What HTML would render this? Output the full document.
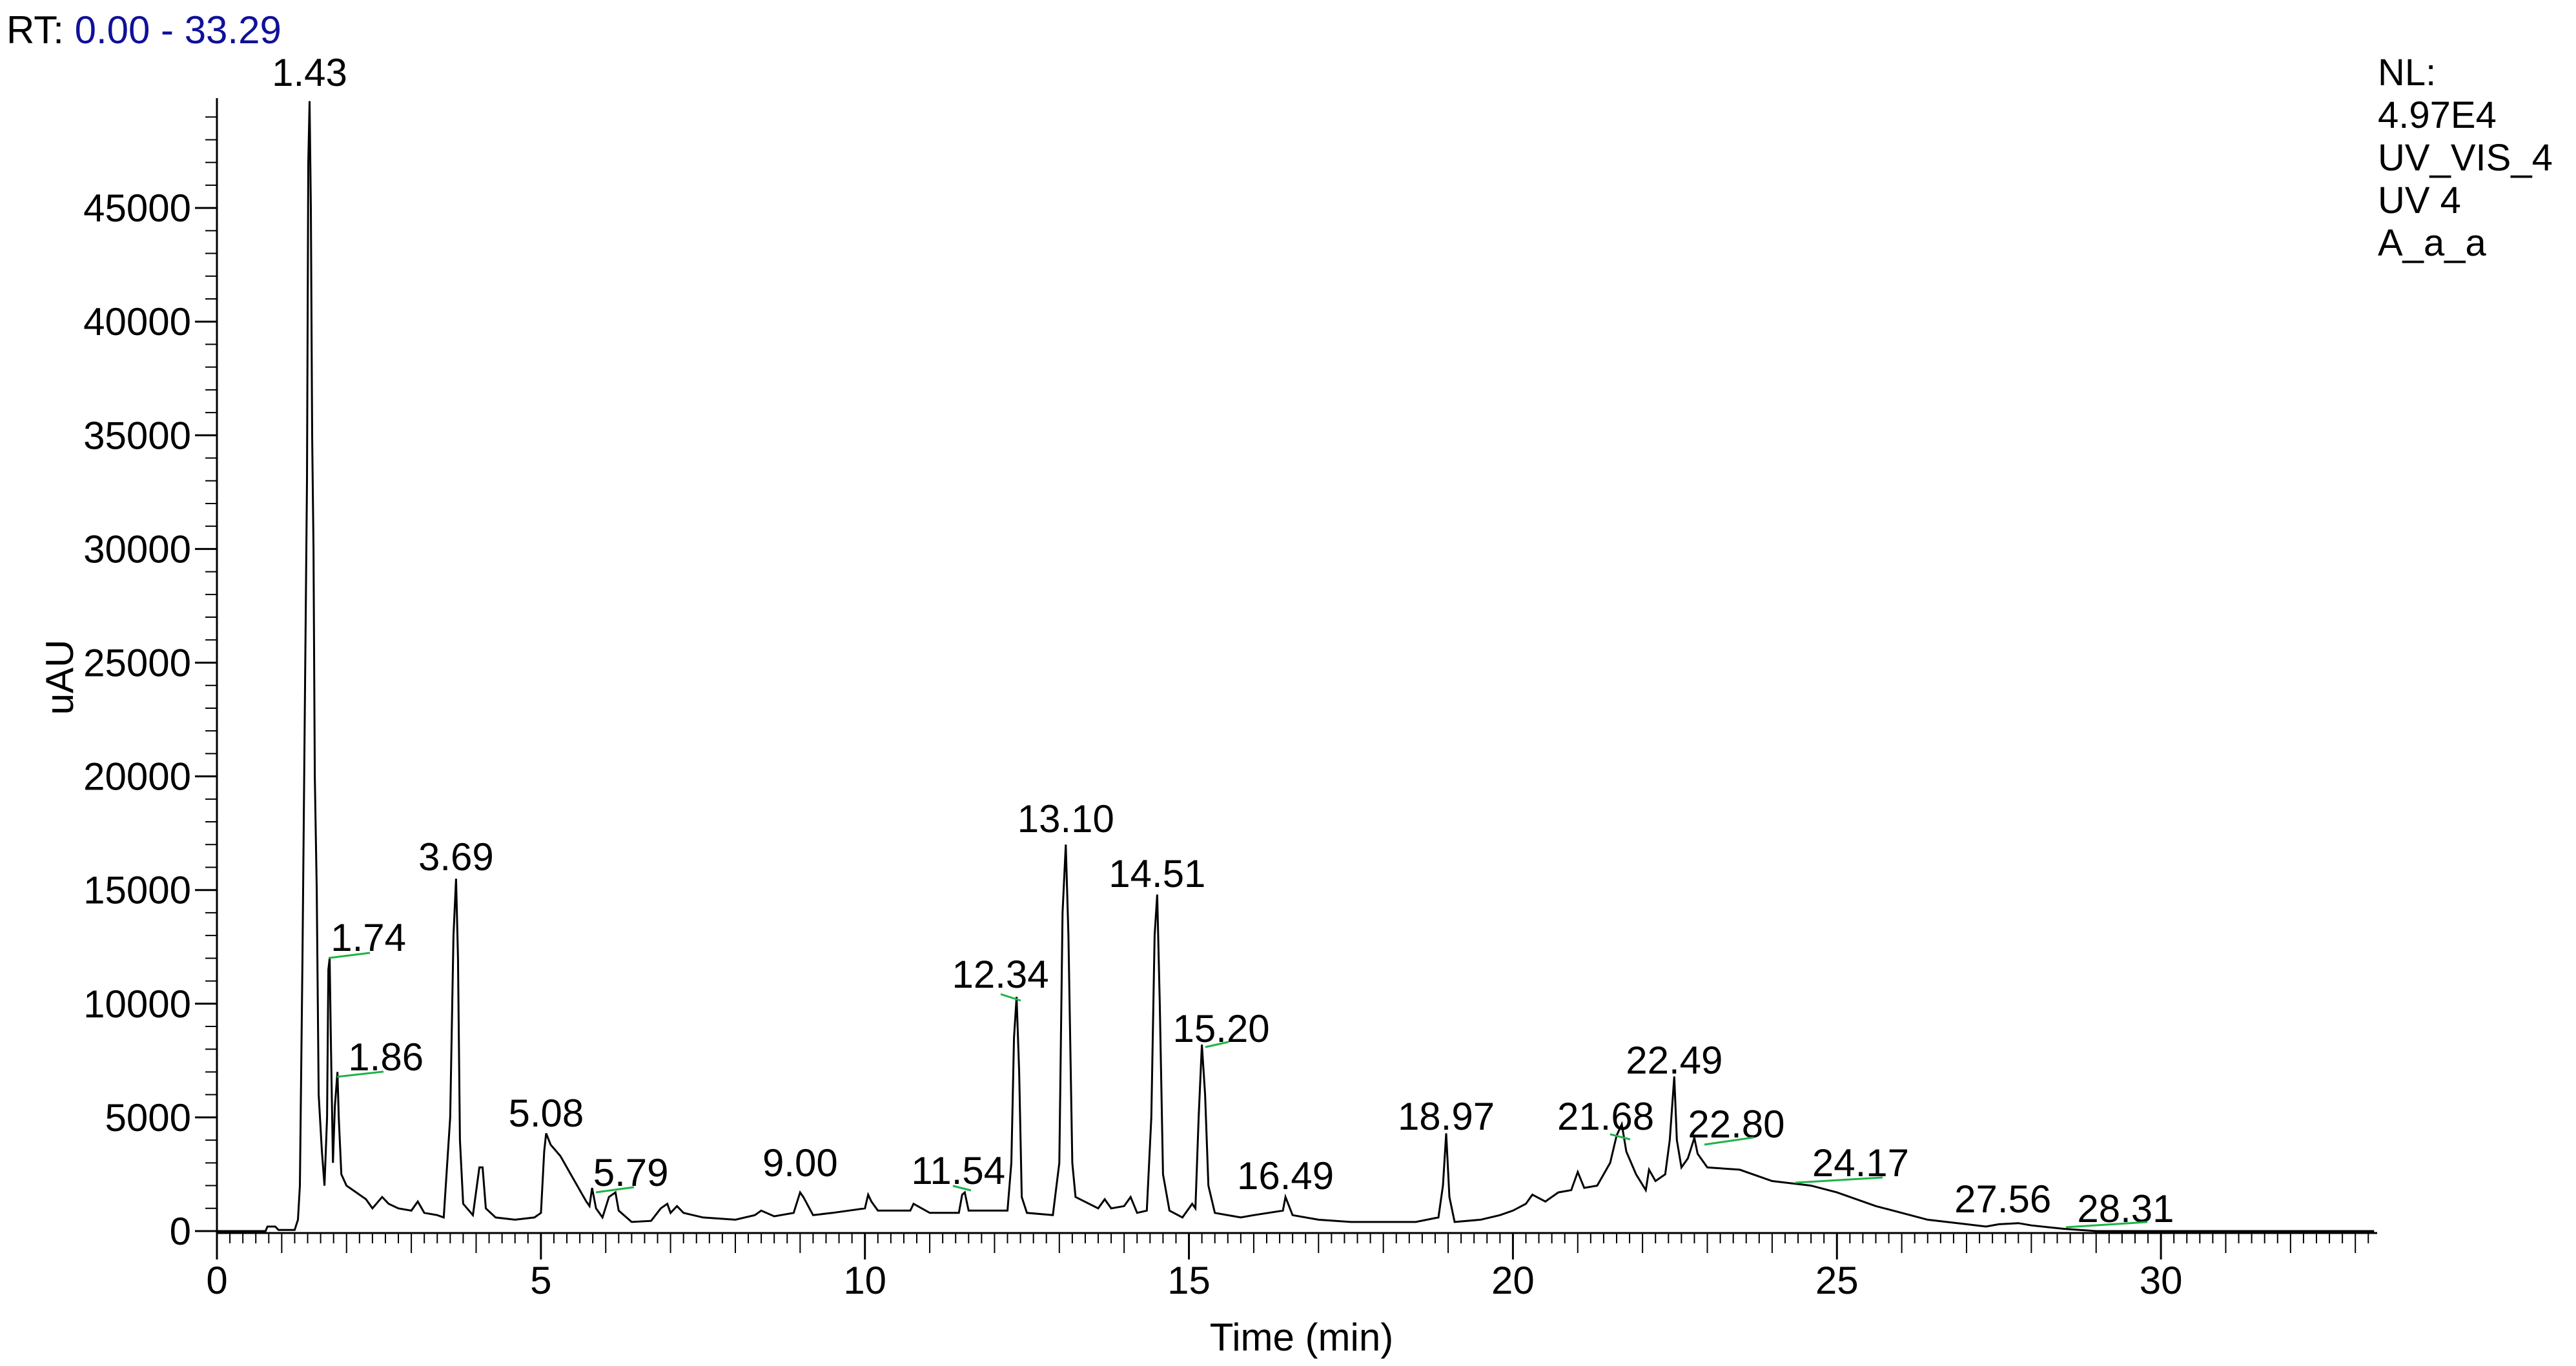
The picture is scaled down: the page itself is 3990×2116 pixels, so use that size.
<!DOCTYPE html>
<html><head><meta charset="utf-8">
<style>
html,body{margin:0;padding:0;background:#fff;}
svg{display:block;font-family:"Liberation Sans",Arial,sans-serif;}
</style></head>
<body>
<svg id="chart" width="3990" height="2116" viewBox="0 0 3990 2116" xmlns="http://www.w3.org/2000/svg">
<rect width="3990" height="2116" fill="#fff"/>
<text x="10" y="67" font-size="60" fill="#000">RT: <tspan fill="#10109a">0.00 - 33.29</tspan></text>
<g font-size="58" fill="#000">
<text x="3683" y="132">NL:</text>
<text x="3683" y="198">4.97E4</text>
<text x="3683" y="264">UV_VIS_4</text>
<text x="3683" y="330">UV 4</text>
<text x="3683" y="396">A_a_a</text>
</g>
<text x="0" y="0" font-size="60" text-anchor="middle" transform="translate(113,1049) rotate(-90)">uAU</text>
<text x="2016" y="2092" font-size="60" text-anchor="middle">Time (min)</text>
<g id="axes"></g>
<g id="trace"></g>
<g id="labels"></g>
</svg>
<script>
// ---- data ----
const times = [0,0.75,0.78,0.9,0.95,1.2,1.25,1.28,1.32,1.36,1.39,1.41,1.43,1.45,1.47,1.49,1.51,1.54,1.57,1.62,1.66,1.70,1.72,1.74,1.76,1.79,1.82,1.86,1.88,1.92,2.0,2.1,2.2,2.3,2.4,2.55,2.65,2.8,3.0,3.1,3.2,3.4,3.5,3.6,3.65,3.69,3.72,3.75,3.8,3.95,4.05,4.1,4.15,4.3,4.6,4.9,5.0,5.05,5.08,5.15,5.3,5.5,5.7,5.75,5.79,5.85,5.95,6.05,6.15,6.2,6.4,6.7,6.85,6.95,7.0,7.1,7.2,7.5,8.0,8.3,8.4,8.6,8.9,9.0,9.05,9.2,9.5,10.0,10.05,10.1,10.2,10.7,10.75,11.0,11.45,11.5,11.54,11.6,12.2,12.26,12.3,12.34,12.38,12.42,12.5,12.9,13.0,13.05,13.10,13.14,13.2,13.25,13.6,13.7,13.8,14.0,14.1,14.2,14.35,14.42,14.47,14.51,14.55,14.6,14.7,14.9,15.05,15.1,15.15,15.2,15.25,15.3,15.4,15.8,16.0,16.45,16.49,16.6,17.0,17.5,18.5,18.85,18.92,18.97,19.02,19.1,19.5,19.8,20.0,20.2,20.3,20.5,20.7,20.9,21.0,21.1,21.3,21.5,21.6,21.68,21.75,21.9,22.05,22.1,22.2,22.35,22.42,22.49,22.53,22.6,22.7,22.8,22.85,23.0,23.5,24.0,24.6,25.0,25.3,25.6,26.0,26.4,27.0,27.3,27.5,27.8,28.0,28.5,29.0,29.5,33.29];
const intensities = [0,0,200,200,50,50,500,2000,12000,24000,33000,47000,49700,45000,35000,30000,20000,15000,6000,3500,2000,5000,11500,12000,8000,3000,5500,7000,5000,2500,2000,1800,1600,1400,1000,1500,1200,1000,900,1300,800,700,600,5000,13000,15500,12000,4000,1200,700,2800,2800,1000,600,500,600,800,3500,4300,3800,3300,2300,1300,1100,1900,1000,600,1500,1700,900,400,450,1000,1200,800,1100,800,600,500,700,900,650,800,1700,1500,700,800,1000,1600,1300,900,900,1200,800,800,1600,1700,900,900,3000,8500,10300,7000,1500,800,700,3000,14000,17000,13000,3000,1500,1000,1400,1000,1100,1500,800,900,5000,13000,14800,10000,2500,900,600,1200,1000,5000,8200,6000,2000,800,600,700,900,1500,700,500,400,400,600,2000,4300,1500,400,500,700,900,1200,1600,1300,1700,1800,2600,1900,2000,3000,4200,4700,3500,2500,1800,2700,2200,2500,4000,6800,4000,2800,3200,4100,3400,2800,2700,2200,2000,1700,1400,1100,800,500,300,200,300,350,250,100,0,0,0];
const yTickValues = [0,5000,10000,15000,20000,25000,30000,35000,40000,45000];
const xTickValues = [0,5,10,15,20,25,30];
const peakLabels = ["1.43","1.74","1.86","3.69","5.08","5.79","9.00","11.54","12.34","13.10","14.51","15.20","16.49","18.97","21.68","22.49","22.80","24.17","27.56","28.31"];
const peakTimes = [1.43,1.74,1.86,3.69,5.08,5.79,9.00,11.54,12.34,13.10,14.51,15.20,16.49,18.97,21.68,22.49,22.80,24.17,27.56,28.31];
const peakValues = [49700,12000,7000,15500,4300,1900,1700,1700,10300,17000,14800,8200,1500,4300,4700,6800,4100,2200,350,250];
// style offsets (px) for label placement: dx from peak, baseline y, green leader flag
const labelDx = [0,60,75,0,0,60,0,-10,-25,0,0,30,0,0,-25,0,65,120,0,115];
const labelBaseline = [133,1473,1658,1348,1745,1837,1822,1834,1530,1289,1374,1614,1842,1750,1750,1663,1762,1822,1878,1893];
const leaders = [null,[509,1484,573,1476],[522,1668,594,1660],null,null,[923,1847,982,1839],null,[1476,1837,1504,1844],[1550,1540,1581,1550],null,null,[1867,1622,1903,1614],null,null,[2494,1757,2525,1765],null,[2640,1773,2716,1762],[2781,1832,2916,1824],null,[3200,1901,3326,1893]];

// ---- scales ----
const X0 = 336, PXM = 100.37, Y0 = 1907, PXU = 0.03522;
function xS(t){ return X0 + t*PXM; }
function yS(v){ return Y0 - v*PXU; }
const NS = "http://www.w3.org/2000/svg";
function mk(tag, attrs, parent){ const e=document.createElementNS(NS,tag); for(const k in attrs) e.setAttribute(k,attrs[k]); parent.appendChild(e); return e; }

const axes = document.getElementById('axes');
let yl = mk('line',{x1:X0,y1:152,x2:X0,y2:1910,stroke:'#000','stroke-width':3},axes);


let xl = mk('line',{x1:X0,y1:1910,x2:3682,y2:1910,stroke:'#000','stroke-width':3},axes);



// y minor ticks every 1000
for(let v=0; v<=49000; v+=1000){
  const major = v%5000===0;
  const t = mk('line',{x1:major?302:318,y1:yS(v),x2:X0,y2:yS(v),stroke:'#000','stroke-width':major?3:2},axes);
  
  
}
yTickValues.forEach(v=>{
  const tx = mk('text',{x:296,y:yS(v)+21,'font-size':60,'text-anchor':'end',fill:'#000'},axes);
  tx.textContent = String(v);
  
  
});
// x ticks every 0.2 min
for(let i=0; i*0.2<=33.29; i++){
  const t=i*0.2;
  const major = i%25===0, medium = i%5===0;
  const len = major?41:(medium?31:16);
  const tk = mk('line',{x1:xS(t),y1:1910,x2:xS(t),y2:1910+len,stroke:'#000','stroke-width':major?3:2},axes);
  
  
}
xTickValues.forEach(v=>{
  const tx = mk('text',{x:xS(v),y:2004,'font-size':60,'text-anchor':'middle',fill:'#000'},axes);
  tx.textContent = String(v);
  
  
});

// trace
const pts = times.map((t,i)=>xS(t).toFixed(1)+','+yS(intensities[i]).toFixed(1)).join(' ');
const tr = mk('polyline',{points:pts,fill:'none',stroke:'#000','stroke-width':3,'stroke-linejoin':'miter'},document.getElementById('trace'));



// peak labels
const lg = document.getElementById('labels');
peakLabels.forEach((s,i)=>{
  const tx = mk('text',{x:xS(peakTimes[i])+labelDx[i],y:labelBaseline[i],'font-size':60,'text-anchor':'middle',fill:'#000'},lg);
  tx.textContent = s;
  
  
  if(leaders[i]){
    const l=leaders[i];
    const ln = mk('line',{x1:l[0],y1:l[1],x2:l[2],y2:l[3],stroke:'#1db347','stroke-width':3},lg);
    
    
  }
});
</script>
</body></html>
